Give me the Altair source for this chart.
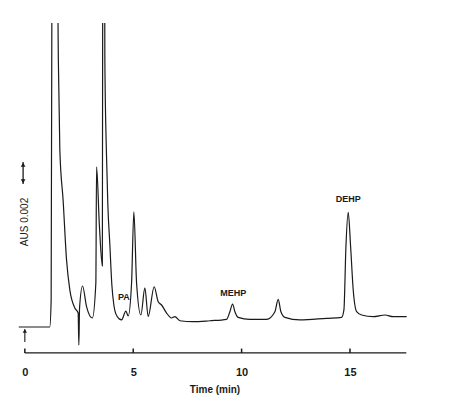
import altair as alt
import pandas as pd

# chromatogram trace: time (min) and absorbance signal (mAU, relative to baseline)
time_min = [-0.28, 1.15, 1.214, 1.269, 1.384, 1.500, 1.546, 1.615, 1.767, 1.924,
            2.077, 2.307, 2.460, 2.492, 2.524, 2.663, 2.847, 3.115, 3.276, 3.309,
            3.438, 3.576, 3.599, 3.636, 3.692, 3.761, 3.830, 3.923, 4.015, 4.107,
            4.246, 4.462, 4.661, 4.767, 4.924, 5.030, 5.155, 5.353, 5.538, 5.690,
            5.967, 6.151, 6.308, 6.539, 6.770, 6.922, 7.153, 7.767, 8.537, 9.308,
            9.460, 9.585, 9.691, 9.843, 10.383, 11.154, 11.537, 11.689, 11.814, 11.998,
            12.690, 13.922, 14.615, 14.721, 14.813, 14.919, 15.030, 15.150, 15.307, 15.538,
            16.073, 16.613, 16.996, 17.614]
signal = [0.0, 0.0, 2.45, 47.9, 66.1, 34.3, 24.3, 16.1, 11.5, 6.1,
          3.36, 1.73, 1.27, -1.64, 1.73, 3.73, 1.85, 0.82, 4.0, 14.55,
          9.27, 5.55, 43.4, 61.5, 24.3, 16.1, 11.1, 7.45, 3.82, 2.0,
          1.0, 0.64, 1.45, 1.0, 4.0, 10.48, 4.0, 1.09, 3.55, 0.94,
          3.66, 2.3, 2.0, 1.27, 0.82, 0.94, 0.57, 0.48, 0.57, 0.70,
          1.39, 2.09, 1.39, 0.88, 0.70, 0.70, 1.39, 2.52, 1.39, 0.88,
          0.64, 0.79, 0.88, 1.55, 7.3, 10.43, 7.3, 3.36, 1.39, 1.09,
          0.94, 1.09, 0.94, 0.94]

# peak labels
peak_names = ["PA", "MEHP", "DEHP"]
peak_t = [4.57, 9.61, 14.92]
peak_v = [2.73, 3.06, 11.6]

# axis ticks
tick_values = [0, 5, 10, 15]
axis_end = 17.6
axis_level = -2.36

X_DOMAIN = [-0.5, 18.0]
Y_DOMAIN = [-2.364, 27.64]
FONT = "Liberation Sans"
INK = "#1a1a1a"

trace = pd.DataFrame({"t": time_min, "v": signal, "i": range(len(time_min))})
labels = pd.DataFrame({"t": peak_t, "v": peak_v, "name": peak_names})
axis_line = pd.DataFrame({"t": [0.0], "t2": [axis_end], "v": [axis_level], "v2": [axis_level]})
ticks = pd.DataFrame({"t": tick_values, "t2": tick_values,
                      "v": [axis_level] * 4, "v2": [axis_level + 0.4] * 4})
inj_arrow = pd.DataFrame({"t": [0.0], "t2": [0.0], "v": [-1.36], "v2": [-0.2]})
inj_head = pd.DataFrame({"t": [0.0], "v": [-0.35]})
scale_arrow = pd.DataFrame({"t": [-0.08], "t2": [-0.08], "v": [13.0], "v2": [15.0]})
scale_heads = pd.DataFrame({"t": [-0.08, -0.08], "v": [14.75, 13.25],
                            "shape": ["triangle-up", "triangle-down"]})
scale_text = pd.DataFrame({"t": [0.03], "v": [9.55], "txt": ["AUS  0.002"]})

xs = alt.Scale(domain=X_DOMAIN, nice=False, zero=False)
ys = alt.Scale(domain=Y_DOMAIN, nice=False, zero=False)
x_enc = alt.X("t:Q", scale=xs,
              axis=alt.Axis(values=tick_values, domain=False, ticks=False, grid=False,
                            labelPadding=13, labelFont=FONT, labelFontSize=11,
                            labelFontWeight="bold", labelColor=INK,
                            title="Time (min)", titleFont=FONT, titleFontSize=10,
                            titleFontWeight="bold", titleColor=INK, titlePadding=7))
y_enc = alt.Y("v:Q", scale=ys, axis=None)

line = alt.Chart(trace).mark_line(color=INK, strokeWidth=1.2, clip=True,
                                  interpolate="monotone").encode(
    x=x_enc, y=y_enc, order="i:Q")

rule_x2 = alt.X2("t2")
rule_y2 = alt.Y2("v2")
axis_rule = alt.Chart(axis_line).mark_rule(color=INK, strokeWidth=1.3).encode(
    x=x_enc, x2=rule_x2, y=y_enc, y2=rule_y2)
tick_rules = alt.Chart(ticks).mark_rule(color=INK, strokeWidth=1.5).encode(
    x=x_enc, x2=rule_x2, y=y_enc, y2=rule_y2)
inj_rule = alt.Chart(inj_arrow).mark_rule(color=INK, strokeWidth=1.1).encode(
    x=x_enc, x2=rule_x2, y=y_enc, y2=rule_y2)
inj_tri = alt.Chart(inj_head).mark_point(shape="triangle-up", filled=True, size=18,
                                         color=INK, opacity=1).encode(x=x_enc, y=y_enc)
sc_rule = alt.Chart(scale_arrow).mark_rule(color=INK, strokeWidth=1.3).encode(
    x=x_enc, x2=rule_x2, y=y_enc, y2=rule_y2)
sc_tri = alt.Chart(scale_heads).mark_point(filled=True, size=22, color=INK, opacity=1).encode(
    x=x_enc, y=y_enc, shape=alt.Shape("shape:N", scale=None))
sc_txt = alt.Chart(scale_text).mark_text(angle=270, font=FONT, fontSize=10,
                                         color=INK, align="center", baseline="middle").encode(
    x=x_enc, y=y_enc, text="txt:N")
peak_txt = alt.Chart(labels).mark_text(font=FONT, fontSize=9, fontWeight="bold",
                                       color=INK, align="center", baseline="middle").encode(
    x=x_enc, y=y_enc, text="name:N")

chart = alt.layer(line, axis_rule, tick_rules, inj_rule, inj_tri, sc_rule, sc_tri,
                  sc_txt, peak_txt).properties(
    width=401, height=330,
    autosize=alt.AutoSizeParams(type="none"),
    padding={"left": 6, "top": 15, "right": 10, "bottom": 45},
    background="white",
).configure_view(stroke=None)

chart.save("out.html", embed_options={"renderer": "svg", "actions": False})
